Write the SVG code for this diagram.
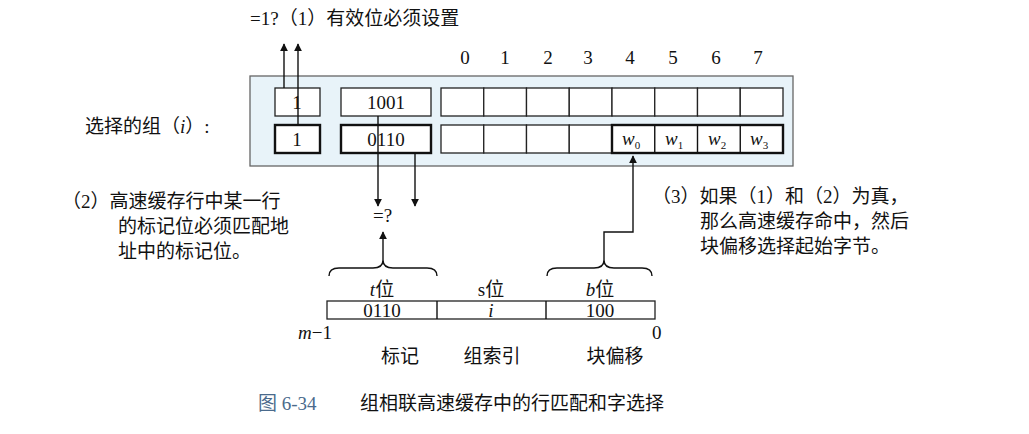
<svg xmlns="http://www.w3.org/2000/svg" width="1029" height="434" viewBox="0 0 1029 434">
<defs>
<marker id="ah" viewBox="0 0 10 10" refX="9" refY="5" markerWidth="8" markerHeight="8" orient="auto-start-reverse" markerUnits="userSpaceOnUse"><path d="M0,0 L10,5 L0,10 z" fill="#111"/></marker>
<style>
text{font-family:"Liberation Serif","Noto Sans CJK SC",serif;font-size:19px;fill:#111}
.c{text-anchor:middle}
.cell{fill:#fff;stroke:#222;stroke-width:1.3}
.bold{fill:#fff;stroke:#111;stroke-width:2.4}
.ln{fill:none;stroke:#111;stroke-width:1.4}
</style>
</defs>
<rect width="1029" height="434" fill="#fff"/>
<g id="set">
<rect x="250" y="76" width="543" height="90" fill="#e8f3f9" stroke="#666" stroke-width="1.3"/>
<rect class="cell" x="275" y="88" width="45" height="28"/><text class="c" x="297" y="109">1</text>
<rect class="cell" x="341" y="88" width="90" height="28"/><text class="c" x="386" y="109">1001</text>
<rect class="bold" x="275" y="125" width="45" height="28"/><text class="c" x="297" y="146">1</text>
<rect class="bold" x="341" y="125" width="90" height="28"/><text class="c" x="386" y="146">0110</text>
<g class="cell">
<rect x="441" y="88" width="42.75" height="28"/><rect x="483.75" y="88" width="42.75" height="28"/><rect x="526.5" y="88" width="42.75" height="28"/><rect x="569.25" y="88" width="42.75" height="28"/><rect x="612" y="88" width="42.75" height="28"/><rect x="654.75" y="88" width="42.75" height="28"/><rect x="697.5" y="88" width="42.75" height="28"/><rect x="740.25" y="88" width="42.75" height="28"/>
<rect x="441" y="125" width="42.75" height="28"/><rect x="483.75" y="125" width="42.75" height="28"/><rect x="526.5" y="125" width="42.75" height="28"/><rect x="569.25" y="125" width="42.75" height="28"/>
</g>
<rect class="bold" x="612" y="125" width="171" height="28"/>
<path class="ln" d="M654.75,125v28M697.5,125v28M740.25,125v28"/>
<text x="622" y="145" font-style="italic">w<tspan font-size="11" dy="4" font-style="normal">0</tspan></text>
<text x="665" y="145" font-style="italic">w<tspan font-size="11" dy="4" font-style="normal">1</tspan></text>
<text x="708" y="145" font-style="italic">w<tspan font-size="11" dy="4" font-style="normal">2</tspan></text>
<text x="750" y="145" font-style="italic">w<tspan font-size="11" dy="4" font-style="normal">3</tspan></text>
<g class="c"><text x="465" y="64">0</text><text x="505" y="64">1</text><text x="548" y="64">2</text><text x="588" y="64">3</text><text x="630" y="64">4</text><text x="673" y="64">5</text><text x="716" y="64">6</text><text x="758" y="64">7</text></g>
</g>
<g id="address">
<rect class="cell" x="327" y="301" width="328" height="18"/>
<path class="ln" d="M437,301v18M546,301v18"/>
<text class="c" x="382" y="317">0110</text><text class="c" x="491" y="317" font-style="italic">i</text><text class="c" x="600" y="317">100</text>
<text class="c" x="382" y="296"><tspan font-style="italic">t</tspan>位</text>
<text class="c" x="491" y="296">s位</text>
<text class="c" x="600" y="296"><tspan font-style="italic">b</tspan>位</text>
<path class="ln" d="M329,276 q0,-8 10,-8 h34 q10,0 10,-8 q0,8 10,8 h34 q10,0 10,8"/>
<path class="ln" d="M547,276 q0,-8 10,-8 h37 q10,0 10,-8 q0,8 10,8 h28 q10,0 10,8"/>
<text x="298" y="339" font-style="italic">m<tspan font-style="normal">−1</tspan></text>
<text x="652" y="339">0</text>
<text class="c" x="400" y="363">标记</text><text class="c" x="492" y="363">组索引</text><text class="c" x="615" y="363">块偏移</text>
</g>
<g id="connectors">
<path class="ln" d="M284,88V44" marker-end="url(#ah)"/>
<path class="ln" d="M298,125V44" marker-end="url(#ah)"/>
<path class="ln" d="M378,116V206" marker-end="url(#ah)"/>
<path class="ln" d="M415,153V206" marker-end="url(#ah)"/>
<path class="ln" d="M383,260V232" marker-end="url(#ah)"/>
<path class="ln" d="M604,260V232H633V156" marker-end="url(#ah)"/>
</g>
<g id="labels">
<text x="250" y="25">=1?（1）有效位必须设置</text>
<text x="85" y="133">选择的组（<tspan font-style="italic">i</tspan>）:</text>
<text x="373" y="222" font-size="15">=?</text>
<text x="62" y="208">（2）高速缓存行中某一行</text>
<text x="118" y="233">的标记位必须匹配地</text>
<text x="118" y="258">址中的标记位。</text>
<text x="652" y="203">（3）如果（1）和（2）为真，</text>
<text x="700" y="228">那么高速缓存命中，然后</text>
<text x="700" y="253">块偏移选择起始字节。</text>
<text x="258" y="410" style="fill:#4a6a8c">图 6-34</text>
<text x="360" y="410" font-size="20">组相联高速缓存中的行匹配和字选择</text>
</g>
</svg>
